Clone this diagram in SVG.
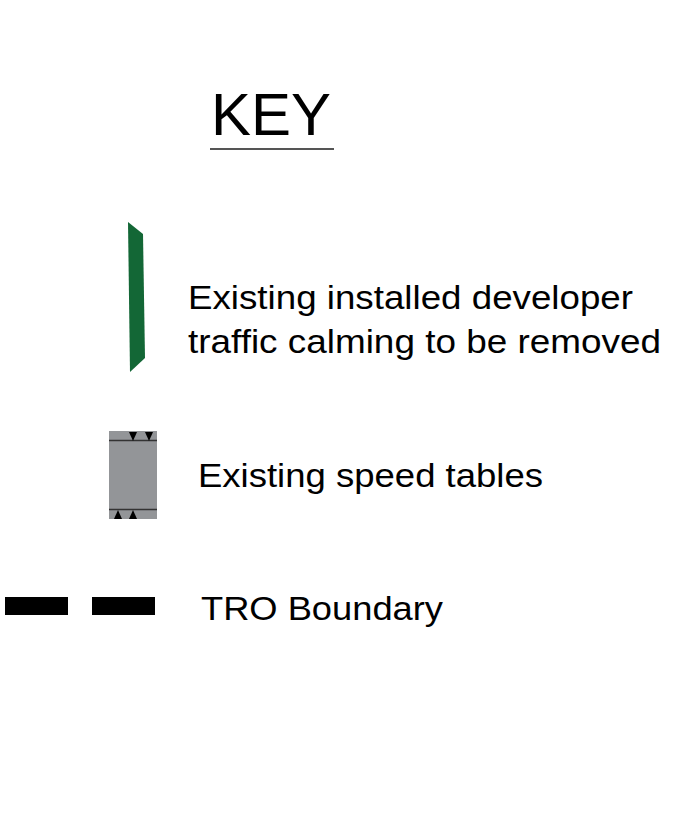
<svg xmlns="http://www.w3.org/2000/svg" width="699" height="833" viewBox="0 0 699 833">
<style>
text{font-family:"Liberation Sans",Arial,sans-serif;fill:#000}
.lbl{font-size:33px}
.tri{fill:#000}
</style>
<rect width="699" height="833" fill="#fff"/>
<g id="title">
<text x="211" y="135" font-size="60" textLength="120" lengthAdjust="spacingAndGlyphs">KEY</text>
<line x1="210" y1="149" x2="334" y2="149" stroke="#555" stroke-width="2"/>
</g>
<g id="key-traffic-calming">
<polygon points="128,222 143,234 145,358 130,372" fill="#136736"/>
<text class="lbl" x="188" y="309" textLength="445" lengthAdjust="spacingAndGlyphs">Existing installed developer</text>
<text class="lbl" x="188" y="353" textLength="473" lengthAdjust="spacingAndGlyphs">traffic calming to be removed</text>
</g>
<g id="key-speed-tables">
<rect x="109" y="431" width="48" height="88" fill="#939598"/>
<line x1="109" y1="440.5" x2="157" y2="440.5" stroke="#333" stroke-width="1.5"/>
<line x1="109" y1="509.5" x2="157" y2="509.5" stroke="#333" stroke-width="1.5"/>
<polygon class="tri" points="129,432 137,432 133,441"/>
<polygon class="tri" points="145,432 153,432 149,441"/>
<polygon class="tri" points="114,519 122,519 118,510"/>
<polygon class="tri" points="129,519 137,519 133,510"/>
<text class="lbl" x="198" y="487" textLength="345" lengthAdjust="spacingAndGlyphs">Existing speed tables</text>
</g>
<g id="key-tro-boundary">
<rect x="5" y="597" width="63" height="18" fill="#000"/>
<rect x="92" y="597" width="63" height="18" fill="#000"/>
<text class="lbl" x="201" y="620" textLength="242" lengthAdjust="spacingAndGlyphs">TRO Boundary</text>
</g>
</svg>
